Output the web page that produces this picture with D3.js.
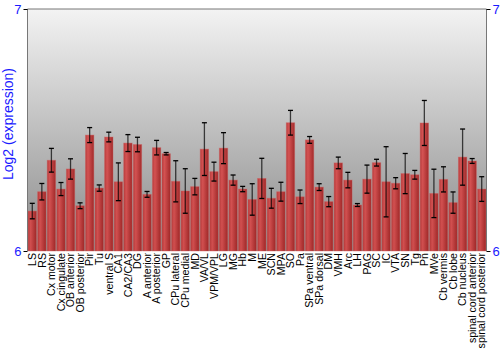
<!DOCTYPE html>
<html><head><meta charset="utf-8">
<script src="https://cdn.jsdelivr.net/npm/d3@7"></script>
<style>body{margin:0;background:#fff}svg{display:block}</style>
</head><body>
<script>
const categories = ["LS","RS","Cx motor","Cx cingulate","OB anterior","OB posterior","Pir","Tu","ventral S","CA1","CA2/CA3","DG","A anterior","A posterior","GP","CPu lateral","CPu medial","MD","VA/VL","VPM/VPL","LG","MG","Hb","M","ME","SCN","MPA","SO","Pa","SPa ventral","SPa dorsal","DM","VMH","Arc","LH","PAG","SC","IC","VTA","SN","Tg","Pn","MVe","Cb vermis","Cb lobe","Cb nucleus","spinal cord anterior","spinal cord posterior"];
const values = [6.165,6.245,6.375,6.256,6.339,6.187,6.479,6.260,6.471,6.286,6.446,6.440,6.234,6.427,6.402,6.288,6.248,6.266,6.421,6.328,6.425,6.293,6.256,6.213,6.300,6.218,6.245,6.530,6.224,6.459,6.264,6.204,6.364,6.293,6.190,6.297,6.365,6.286,6.280,6.320,6.315,6.529,6.238,6.296,6.200,6.388,6.372,6.256];
const errors = [0.032,0.034,0.049,0.027,0.042,0.012,0.031,0.013,0.020,0.078,0.035,0.030,0.012,0.030,0.005,0.085,0.092,0.034,0.109,0.039,0.064,0.021,0.011,0.065,0.083,0.041,0.039,0.051,0.028,0.014,0.014,0.021,0.024,0.032,0.006,0.058,0.014,0.145,0.023,0.083,0.018,0.093,0.100,0.052,0.044,0.116,0.010,0.051];
const yTicks = [6,7];

const W=500,H=350, L=27.5, R=486.5, T=9, B=251;
const svg=d3.select("body").append("svg").attr("width",W).attr("height",H);
const defs=svg.append("defs");
const bg=defs.append("linearGradient").attr("id","bg").attr("x1",0).attr("y1",0).attr("x2",0).attr("y2",1);
bg.append("stop").attr("offset","0%").attr("stop-color","#f3f3f3");
bg.append("stop").attr("offset","100%").attr("stop-color","#8a8a8a");
const bar=defs.append("linearGradient").attr("id","bar").attr("x1",0).attr("y1",0).attr("x2",1).attr("y2",0);
bar.append("stop").attr("offset","0%").attr("stop-color","#b83030");
bar.append("stop").attr("offset","30%").attr("stop-color","#d84848");
bar.append("stop").attr("offset","100%").attr("stop-color","#a01c1c");

const x=d3.scaleBand().domain(categories).range([L,R]).paddingInner(0.12).paddingOuter(0.06);
const y=d3.scaleLinear().domain([6,7]).range([B,T]);

svg.append("rect").attr("x",L).attr("y",T).attr("width",R-L).attr("height",B-T).attr("fill","url(#bg)");

const g=svg.append("g");
categories.forEach((c,i)=>{
  const cx=x(c)+x.bandwidth()/2;
  g.append("rect").attr("x",x(c)).attr("y",y(values[i])).attr("width",x.bandwidth()).attr("height",y(6)-y(values[i]))
   .attr("fill","url(#bar)").attr("fill-opacity",0.9).attr("stroke","#d06060").attr("stroke-opacity",0.5).attr("stroke-width",0.8);
  const hi=y(values[i]+errors[i]), lo=y(values[i]-errors[i]);
  g.append("line").attr("x1",cx).attr("x2",cx).attr("y1",hi).attr("y2",lo).attr("stroke","#000").attr("stroke-opacity",0.7).attr("stroke-width",1.3);
  [hi,lo].forEach(v=>g.append("line").attr("x1",cx-2.5).attr("x2",cx+2.5).attr("y1",v).attr("y2",v).attr("stroke","#000").attr("stroke-width",1.3));
});

svg.append("path").attr("d",`M${L},${B}V${T}H${R}V${B}`).attr("fill","none").attr("stroke","#777").attr("stroke-width",1);

const axL=d3.axisLeft(y).tickValues(yTicks).tickFormat(d3.format("d")).tickSize(4).tickPadding(2);
const gl=svg.append("g").attr("transform",`translate(${L},0)`).call(axL);
gl.select(".domain").remove();
gl.selectAll("text").attr("fill","#1a1aff").style("font","13px 'Liberation Sans',Arial,sans-serif");
const axR=d3.axisRight(y).tickValues(yTicks).tickFormat(d3.format("d")).tickSize(4).tickPadding(2);
const gr=svg.append("g").attr("transform",`translate(${R},0)`).call(axR);
gr.select(".domain").remove();
gr.selectAll("text").attr("fill","#1a1aff").style("font","13px 'Liberation Sans',Arial,sans-serif");

svg.append("text").attr("transform",`translate(13,${(T+B)/2 - 6}) rotate(-90)`).attr("text-anchor","middle")
 .attr("fill","#1a1aff").style("font","14px 'Liberation Sans',Arial,sans-serif").text("Log2 (expression)");

const axB=d3.axisBottom(x).tickSize(0).tickPadding(0);
const gb=svg.append("g").attr("transform",`translate(0,${B})`).call(axB);
gb.select(".domain").remove();
gb.selectAll("text").attr("transform","rotate(-90)").attr("text-anchor","end").attr("x",-2).attr("y",0).attr("dy","0.35em")
 .attr("fill","#000").style("font","10.6px 'Liberation Sans',Arial,sans-serif");
</script>
</body></html>
